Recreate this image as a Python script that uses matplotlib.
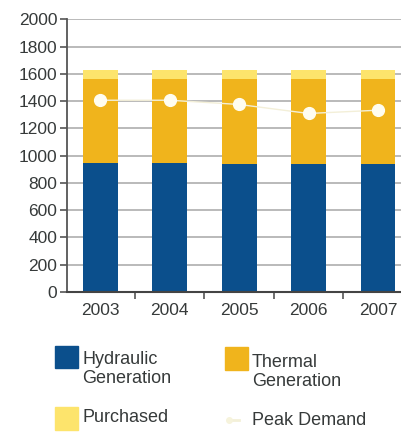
import matplotlib
matplotlib.use("Agg")
import matplotlib.pyplot as plt
from matplotlib.patches import Rectangle
from matplotlib.lines import Line2D

plt.rcParams['font.family'] = ['Liberation Sans', 'DejaVu Sans']

anios = ["2003", "2004", "2005", "2006", "2007"]
hidraulica = [943, 943, 935, 935, 935]
termica = [617, 617, 625, 625, 625]
comprada = [70, 70, 70, 70, 70]
demanda_pico = [1406, 1406, 1375, 1309, 1333]

c_hidra = "#0b4f8c"
c_term = "#f0b41c"
c_comp = "#fde46c"
c_texto = "#363a3a"

fig = plt.figure(figsize=(4.01, 4.33), dpi=100)
ax = fig.add_axes([0.167, 0.3256, 0.833, 0.63])

x = list(range(len(anios)))
base_comp = [h + t for h, t in zip(hidraulica, termica)]
ax.bar(x, hidraulica, width=0.5, color=c_hidra, zorder=2)
ax.bar(x, termica, width=0.5, bottom=hidraulica, color=c_term, zorder=2)
ax.bar(x, comprada, width=0.5, bottom=base_comp, color=c_comp, zorder=2)
ax.plot(x, demanda_pico, '-o', color="#f3efd8", lw=1, ms=8.5,
        mfc="#fffdf0", mec="#fffdf0", zorder=3)

ax.set_xlim(-0.48, 4.33)
ax.set_ylim(0, 2000)
ax.set_yticks(range(0, 2001, 200))
ax.set_xticks(x)
ax.set_xticklabels(anios)
ax.set_xticks([i + 0.5 for i in range(4)], minor=True)
ax.yaxis.grid(True, color="#b4b4b4", lw=1.3, zorder=0)
ax.set_axisbelow(True)

for s in ["top", "right"]:
    ax.spines[s].set_visible(False)
ax.spines["left"].set_color("#555555")
ax.spines["bottom"].set_color("#444444")
ax.spines["left"].set_linewidth(1.3)
ax.spines["bottom"].set_linewidth(1.5)

ax.tick_params(axis="y", length=5, width=1.2, color="#555555",
               labelsize=12.5, labelcolor=c_texto, pad=2)
ax.tick_params(axis="x", which="major", length=0, labelsize=12.5,
               labelcolor=c_texto, pad=8)
ax.tick_params(axis="x", which="minor", length=5, width=1.2, color="#555555")

# leyenda a mano debajo del grafico
def caja(x0, y0, color):
    fig.add_artist(Rectangle((x0, y0), 0.058, 0.052, transform=fig.transFigure,
                             color=color))

caja(0.137, 0.150, c_hidra)
caja(0.561, 0.146, c_term)
caja(0.137, 0.007, c_comp)
fig.add_artist(Line2D([0.570, 0.595], [0.030, 0.030], transform=fig.transFigure,
                      color="#f3f0d8", lw=2, marker="o", ms=4, mfc="#f6f3dc",
                      mec="#f6f3dc", markevery=[0]))

fig.text(0.205, 0.147, "Hydraulic\nGeneration", fontsize=13, color=c_texto,
         va="center", ha="left", linespacing=1.15)
fig.text(0.628, 0.141, "Thermal\nGeneration", fontsize=13, color=c_texto,
         va="center", ha="left", linespacing=1.15)
fig.text(0.205, 0.035, "Purchased", fontsize=13, color=c_texto,
         va="center", ha="left")
fig.text(0.628, 0.030, "Peak Demand", fontsize=13, color=c_texto,
         va="center", ha="left")

fig.savefig("out.png", dpi=100)
